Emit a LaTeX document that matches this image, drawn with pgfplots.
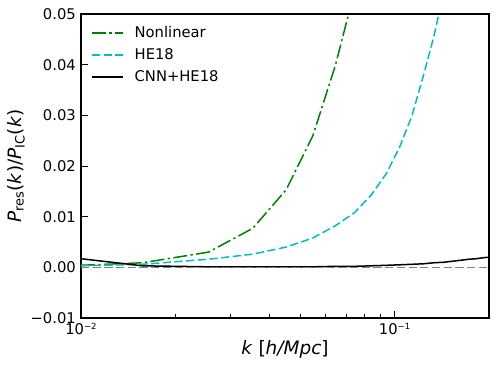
\documentclass[border=0pt]{standalone}
\usepackage{fontspec}
\setmainfont{DejaVu Sans}
\usepackage{pgfplots}
\pgfplotsset{compat=1.18}
\definecolor{mplgreen}{RGB}{0,128,0}
\definecolor{mplcyan}{RGB}{0,191,191}
\definecolor{mplgray}{RGB}{128,128,128}
\newcommand{\sups}[1]{\raisebox{4.8bp}{\fontsize{8.5}{9}\selectfont #1}}

\begin{document}
\begin{tikzpicture}
\begin{semilogxaxis}[
  at={(0,0)}, anchor=south west,
  scale only axis, width=408bp, height=304bp,
  xmin=0.01, xmax=0.2, ymin=-0.01, ymax=0.05,
  xtick={0.01,0.1},
  xticklabels={10\sups{−2},10\sups{−1}},
  minor xtick={0.02,0.03,0.04,0.05,0.06,0.07,0.08,0.09,0.2},
  ytick={-0.01,0,0.01,0.02,0.03,0.04,0.05},
  yticklabels={−0.01,0.00,0.01,0.02,0.03,0.04,0.05},
  scaled y ticks=false,
  tick align=inside, xtick pos=left, ytick pos=left,
  major tick length=7bp, minor tick length=4bp,
  tick style={black, line width=1bp},
  axis line style={black, line width=1.1bp},
  ticklabel style={font=\fontsize{14.8}{17}\selectfont},
  yticklabel style={inner sep=0pt, xshift=-5bp},
  xticklabel style={inner sep=0pt, yshift=-5bp},
  xlabel={\textit{k} [\textit{h/Mpc}]},
  ylabel={\textit{P}\textsubscript{res}(\textit{k})/\textit{P}\textsubscript{IC}(\textit{k})},
  label style={font=\fontsize{18.5}{21}\selectfont},
  xlabel style={at={(axis description cs:0.5,0)}, anchor=center, yshift=-31bp},
  ylabel style={at={(axis description cs:0,0.5)}, anchor=center, yshift=65bp},
  legend cell align=left,
  legend image code/.code={\draw[#1] (0bp,0bp) -- (31bp,0bp);},
  legend style={at={(axis description cs:0,1)}, anchor=north west,
    xshift=10bp, yshift=-10bp, draw=none, fill=none, inner sep=0pt,
    row sep=4bp, column sep=9bp,
    font=\fontsize{14.8}{17}\selectfont,
    nodes={inner sep=2bp, text height=11bp, text depth=3bp}},
]
\addplot[mplgreen, line width=1.5bp, dash pattern=on 14bp off 3.5bp on 2.2bp off 3.5bp] coordinates {
  (0.01,0.0004) (0.0157,0.0009) (0.0255,0.0030) (0.0353,0.0077)
  (0.0451,0.0153) (0.0549,0.0260) (0.0647,0.0398) (0.0745,0.0545)
};
\addlegendentry{Nonlinear}
\addplot[mplcyan, line width=1.5bp, dash pattern=on 8.2bp off 3.5bp] coordinates {
  (0.01,0.0003) (0.0157,0.0006) (0.0255,0.0016) (0.0353,0.0026)
  (0.0451,0.0040) (0.0549,0.0058) (0.0647,0.0082) (0.0745,0.0108)
  (0.0843,0.0143) (0.0941,0.0185) (0.1039,0.0238) (0.1137,0.0300)
  (0.1235,0.0378) (0.1333,0.0455) (0.1431,0.0540)
};
\addlegendentry{HE18}
\addplot[black, line width=1.5bp] coordinates {
  (0.01,0.0017) (0.0157,0.0003) (0.0255,0.0001) (0.0353,0.0001)
  (0.0451,0.0001) (0.0549,0.0001) (0.0647,0.0002) (0.0745,0.0002)
  (0.0843,0.0003) (0.0941,0.0004) (0.1039,0.0005) (0.1137,0.0006)
  (0.1235,0.0007) (0.1333,0.0009) (0.1431,0.0010) (0.1529,0.0012)
  (0.1627,0.0014) (0.1725,0.0016) (0.1823,0.0017) (0.1921,0.0019)
  (0.2,0.0020)
};
\addlegendentry{CNN+HE18}
\addplot[mplgray, line width=1.5bp, dash pattern=on 8.2bp off 3.5bp, forget plot] coordinates {
  (0.01,0) (0.2,0)
};
\end{semilogxaxis}
\pgfresetboundingbox
\path (-81bp,-52bp) rectangle (417bp,318bp);
\end{tikzpicture}
\end{document}
